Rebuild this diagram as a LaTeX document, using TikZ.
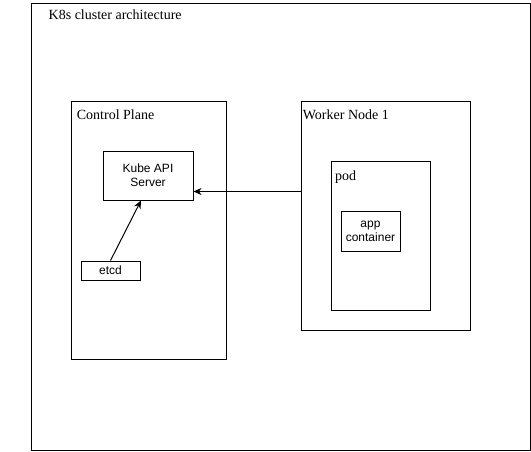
\documentclass[tikz,border=0pt]{standalone}
\usepackage{fontspec}
\setmainfont{Liberation Serif}
\setsansfont{Liberation Sans}
\usetikzlibrary{arrows.meta}
\tikzset{%
  frame/.style = {rectangle,draw,line width=1pt,anchor=north west,
        inner sep=0pt},
  t/.style = {anchor=base west,inner sep=0pt,
        font=\rmfamily\fontsize{14}{16}\selectfont},
  r/.style = {rectangle,draw,line width=1pt,inner sep=0pt,align=center,
        font=\sffamily\fontsize{12}{14}\selectfont},
  callarrow/.style = {-{Stealth[length=8pt,width=7pt,inset=2.5pt]},
        line width=1pt}
}
\begin{document}
\begin{tikzpicture}[x=1pt,y=-1pt]
   \useasboundingbox (0,0) rectangle (531,451);

   \node[frame,minimum width=499pt,minimum height=447pt] (cluster) at (31,3) {};
   \node[t] (cluster-title) at (48.5,19) {K8s cluster architecture};

   \node[frame,minimum width=155pt,minimum height=258pt] (control) at (71,101) {};
   \node[t] (control-title) at (76.7,119.5) {Control Plane};
   \node[r,minimum width=90pt,minimum height=49pt] (api) at (148,175.5) {Kube API\\Server};
   \node[r,minimum width=59pt,minimum height=19pt] (etcd) at (110.5,270.5) {etcd};

   \node[frame,minimum width=169pt,minimum height=229pt] (worker) at (301,101) {};
   \node[t] (worker-title) at (302.7,119.5) {Worker Node 1};
   \node[frame,minimum width=99pt,minimum height=149pt] (pod) at (331,161) {};
   \node[t] (pod-title) at (335,180) {pod};
   \node[r,minimum width=59pt,minimum height=40pt] (app) at (370.5,231) {app\\container};

   \draw[callarrow] (etcd.north) -- ([xshift=-7pt]api.south);
   \draw[callarrow] ([yshift=24.5pt]worker.west) -- ([yshift=24.5pt]worker.west -| api.east);
\end{tikzpicture}
\end{document}
